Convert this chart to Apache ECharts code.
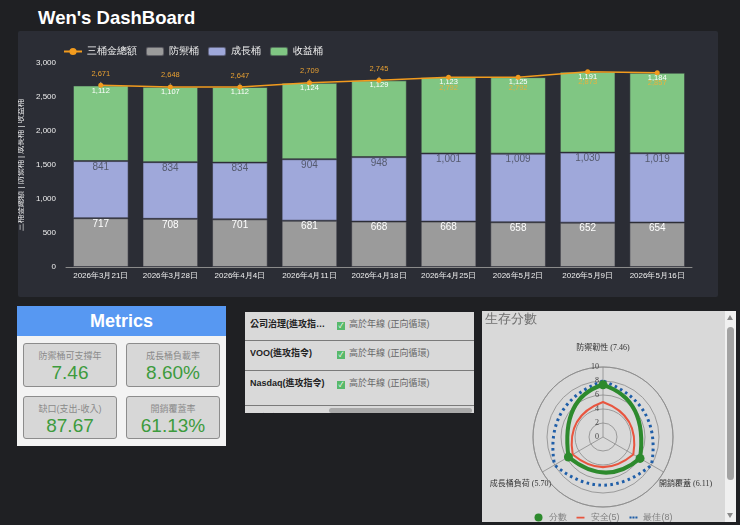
<!DOCTYPE html>
<html>
<head>
<meta charset="utf-8">
<script src="https://cdn.jsdelivr.net/npm/echarts@6/dist/echarts.min.js"></script>
<style>
  body { margin: 0; width: 740px; height: 525px; background: #1f2023; position: relative; overflow: hidden;
         font-family: "Liberation Sans", "Noto Sans CJK TC", sans-serif; }
  #title { position: absolute; left: 38px; top: 7px; color: #fff; font: bold 18.5px "Liberation Sans", sans-serif; }
  #barBox { position: absolute; left: 18px; top: 31px; width: 700px; height: 266px; background: #2b2d35; border-radius: 2px; }
  #metrics { position: absolute; left: 17px; top: 306px; width: 209px; height: 140px; background: #f3f3f3; }
  #metrics .mhead { height: 30px; background: #5798f2; color: #fff; font: bold 18px "Liberation Sans", sans-serif;
                    text-align: center; line-height: 30px; }
  #mbody { display: grid; grid-template-columns: 94px 94px; grid-template-rows: 44px 43px; column-gap: 9px; row-gap: 9px;
           padding: 7px 0 0 6px; }
  .card { background: #d7d7d7; border: 1px solid #8c8c8c; border-radius: 3px; box-sizing: border-box; text-align: center; }
  .card .lab { font-size: 9px; color: #8a8a8a; line-height: 12px; padding-top: 6px; }
  .card .val { font-size: 19px; color: #3d9b3d; line-height: 21px; }
  #signals { position: absolute; left: 245px; top: 312px; width: 229px; height: 101px; background: #d9d9d9; overflow: hidden; }
  .row { position: relative; border-bottom: 1px solid #7a7a7a; box-sizing: border-box; }
  .row .nm { position: absolute; left: 5px; top: 5px; width: 76px; font-size: 9px; font-weight: bold; color: #222;
             white-space: nowrap; overflow: hidden; text-overflow: ellipsis; }
  .row .st { position: absolute; left: 92px; top: 5px; font-size: 9px; color: #666; white-space: nowrap; }
  .row .ck { display: inline-block; width: 8px; height: 8px; background: #57b96b; color: #fff; font-size: 7px; line-height: 8px;
             text-align: center; vertical-align: -1px; margin-right: 4px; }
  #hscroll { position: absolute; left: 84px; top: 96px; width: 143px; height: 5px; background: #a9a9a9; border-radius: 3px; }
  #radarBox { position: absolute; left: 482px; top: 311px; width: 254px; height: 211px; background: #d9d9d9; }
  #radar { position: absolute; left: 0; top: 0; width: 243px; height: 211px; }
  #vtrack { position: absolute; left: 243px; top: 0; width: 11px; height: 211px; background: #f0f0f0; }
  #vthumb { position: absolute; left: 2px; top: 16px; width: 7px; height: 153px; background: #a3a3a3; border-radius: 4px; }
  .arr { position: absolute; left: 2px; width: 0; height: 0; border-left: 3.5px solid transparent; border-right: 3.5px solid transparent; }
  #aup { top: 4px; border-bottom: 5px solid #8a8a8a; }
  #adn { top: 202px; border-top: 5px solid #8a8a8a; }
</style>
</head>
<body>
<div id="title">Wen's DashBoard</div>
<div id="barBox"></div>
<div id="metrics"><div class="mhead">Metrics</div><div id="mbody"></div></div>
<div id="signals"><div id="hscroll"></div></div>
<div id="radarBox"><div id="radar"></div><div id="vtrack"><div class="arr" id="aup"></div><div id="vthumb"></div><div class="arr" id="adn"></div></div></div>
<script>
// 三桶金 weekly data
var dates = ['2026年3月21日', '2026年3月28日', '2026年4月4日', '2026年4月11日', '2026年4月18日',
             '2026年4月25日', '2026年5月2日', '2026年5月9日', '2026年5月16日'];
var defense = [717, 708, 701, 681, 668, 668, 658, 652, 654];
var growth = [841, 834, 834, 904, 948, 1001, 1009, 1030, 1019];
var income = [1112, 1107, 1112, 1124, 1129, 1123, 1125, 1191, 1184];
var totals = [2671, 2648, 2647, 2709, 2745, 2792, 2792, 2873, 2857];

// metrics cards
var metricNames = ['防禦桶可支撐年', '成長桶負載率', '缺口(支出-收入)', '開銷覆蓋率'];
var metricValues = ['7.46', '8.60%', '87.67', '61.13%'];

// signal table
var signalNames = ['公司治理(進攻指令)', 'VOO(進攻指令)', 'Nasdaq(進攻指令)', '現金流量'];
var signalStates = ['高於年線 (正向循環)', '高於年線 (正向循環)', '高於年線 (正向循環)', ''];
var rowHeights = [29, 30, 35, 30];

// 生存分數
var radarNames = ['防禦韌性', '成長桶負荷', '開銷覆蓋'];
var radarScore = [7.46, 5.70, 6.11];
var radarSafe = [5, 5, 5];
var radarBest = [8, 8, 8];

// ---- metrics + table (html) ----
var mb = document.getElementById('mbody');
metricNames.forEach(function (n, i) {
    var c = document.createElement('div');
    c.className = 'card';
    c.innerHTML = '<div class="lab">' + n + '</div><div class="val">' + metricValues[i] + '</div>';
    mb.appendChild(c);
});
var sg = document.getElementById('signals');
var hs = document.getElementById('hscroll');
signalNames.forEach(function (n, i) {
    var r = document.createElement('div');
    r.className = 'row';
    r.style.height = rowHeights[i] + 'px';
    var st = signalStates[i] ? '<div class="st"><span class="ck">&#10003;</span>' + signalStates[i] + '</div>' : '';
    r.innerHTML = '<div class="nm">' + n + '</div>' + st;
    sg.insertBefore(r, hs);
});

// ---- stacked bars ----
function comma(p) { return Number(p.value).toLocaleString('en-US'); }
var bar = echarts.init(document.getElementById('barBox'));
var lineData = totals.map(function (v, i) {
    if (i < 5) return v;
    return { value: v, label: { position: 'bottom', distance: 4, color: '#e6b23e' }, labelLine: { show: false } };
});
var segStyle = { borderColor: 'rgba(50,50,60,0.55)', borderWidth: 1 };
bar.setOption({
    animation: false,
    legend: {
        left: 40, top: 10, itemWidth: 18, itemHeight: 9, itemGap: 8,
        textStyle: { color: '#eee', fontSize: 9.5 },
        data: ['三桶金總額', '防禦桶', '成長桶', '收益桶']
    },
    grid: { left: 48, right: 26, top: 32, bottom: 30, outerBoundsMode: 'none' },
    xAxis: {
        type: 'category', data: dates,
        axisLine: { lineStyle: { color: '#8a8a8a' } },
        axisTick: { show: false },
        axisLabel: { color: '#eee', fontSize: 8, margin: 5, interval: 0 }
    },
    yAxis: {
        type: 'value', min: 0, max: 3000, interval: 500,
        name: '三桶金總額 | 防禦桶 | 成長桶 | 收益桶', nameLocation: 'middle', nameGap: 34,
        nameTextStyle: { color: '#eee', fontSize: 8 },
        splitLine: { show: false },
        axisLabel: { color: '#eee', fontSize: 8, margin: 10 }
    },
    series: [
        { name: '防禦桶', type: 'bar', stack: 'b', data: defense, barWidth: '80%', itemStyle: Object.assign({ color: '#9b9b9b' }, segStyle),
          label: { show: true, position: 'insideTop', distance: 1, color: '#fff', fontSize: 10, formatter: comma } },
        { name: '成長桶', type: 'bar', stack: 'b', data: growth, itemStyle: Object.assign({ color: '#9fa8da' }, segStyle),
          label: { show: true, position: 'insideTop', distance: 1, color: '#555a6e', fontSize: 10, formatter: comma } },
        { name: '收益桶', type: 'bar', stack: 'b', data: income, itemStyle: Object.assign({ color: '#80c683' }, segStyle),
          label: { show: true, position: 'insideTop', distance: 1, color: '#fff', fontSize: 7.5, formatter: comma } },
        { name: '三桶金總額', type: 'line', data: lineData, z: 5,
          symbol: 'circle', symbolSize: 5,
          itemStyle: { color: '#f29b1e' }, lineStyle: { color: '#f29b1e', width: 1.5 },
          label: { show: true, position: 'top', distance: 5, color: '#e8a032', fontSize: 7.5, formatter: comma },
          labelLine: { show: true, lineStyle: { color: '#aaa', width: 1 } } }
    ]
});

// ---- 生存分數 (polar with bowed edges) ----
var radar = echarts.init(document.getElementById('radar'));
var BOW = 2.44;
function shapeItem(color, width, dash, marker) {
    return function (params, api) {
        var n = params.dataInsideLength;
        var me = params.dataIndexInside;
        var p = api.coord([api.value(0), api.value(1)]);
        var kids = [];
        if (me === 0) {
            var pts = [];
            for (var j = 0; j < n; j++) pts.push(api.coord([api.value(0, j), api.value(1, j)]));
            var cx = params.coordSys.cx, cy = params.coordSys.cy;
            var d = 'M' + pts[0][0] + ',' + pts[0][1];
            for (j = 0; j < n; j++) {
                var a = pts[j], b = pts[(j + 1) % n];
                var qx = cx + ((a[0] + b[0]) / 2 - cx) * BOW;
                var qy = cy + ((a[1] + b[1]) / 2 - cy) * BOW;
                d += 'Q' + qx + ',' + qy + ' ' + b[0] + ',' + b[1];
            }
            d += 'Z';
            kids.push({ type: 'path', shape: { pathData: d },
                        style: { fill: 'none', stroke: color, lineWidth: width, lineDash: dash, lineJoin: 'round' } });
        }
        if (marker) kids.push({ type: 'circle', shape: { cx: p[0], cy: p[1], r: 4.5 }, style: { fill: color } });
        return { type: 'group', children: kids };
    };
}
function pairs(vals) { return vals.map(function (v, i) { return [v, i]; }); }
var serif = "'Liberation Serif', 'Noto Sans CJK TC', serif";
radar.setOption({
    animation: false,
    title: { text: '生存分數', left: 3, top: 2, padding: 0, textStyle: { color: '#707070', fontSize: 13, fontWeight: 'normal' } },
    polar: { center: [121, 126], radius: 70 },
    angleAxis: {
        type: 'value', min: 0, max: radarNames.length, interval: 1, startAngle: 90, clockwise: false,
        axisLine: { show: true, lineStyle: { color: '#8a8a8a', width: 0.8 } },
        axisTick: { show: false },
        splitLine: { show: true, lineStyle: { color: '#8a8a8a', width: 0.8 } },
        axisLabel: {
            margin: 15,
            formatter: function (v) {
                return v < radarNames.length ? '{n|' + radarNames[v] + ' (' + radarScore[v].toFixed(2) + ')}' : '';
            },
            rich: { n: { width: 18, align: 'center', color: '#333', fontSize: 8, fontFamily: serif } }
        }
    },
    radiusAxis: {
        min: 0, max: 10, interval: 2,
        axisLine: { show: false }, axisTick: { show: false },
        splitLine: { show: true, lineStyle: { color: '#8a8a8a', width: 0.8 } },
        axisLabel: { color: '#444', fontSize: 8, fontFamily: serif, margin: 4 }
    },
    legend: {
        bottom: 0, padding: 0, itemWidth: 10, itemHeight: 8, itemGap: 10,
        textStyle: { color: '#808080', fontSize: 9 },
        data: [
            { name: '分數', icon: 'circle' },
            { name: '安全(5)', icon: 'path://M0,0h0.05v0.05h-0.05zM0,4h10v2.2H0zM0,10h0.05v0.05h-0.05z' },
            { name: '最佳(8)', icon: 'path://M0,0h0.05v0.05h-0.05zM0,3.7h2.6v2.6H0zM3.7,3.7h2.6v2.6h-2.6zM7.4,3.7h2.6v2.6h-2.6zM0,10h0.05v0.05h-0.05z' }
        ]
    },
    series: [
        { name: '最佳(8)', type: 'custom', coordinateSystem: 'polar', data: pairs(radarBest),
          itemStyle: { color: '#1f5ea8' }, renderItem: shapeItem('#1f5ea8', 3, [2.6, 3.4], false) },
        { name: '安全(5)', type: 'custom', coordinateSystem: 'polar', data: pairs(radarSafe),
          itemStyle: { color: '#e8553f' }, renderItem: shapeItem('#e8553f', 2, null, false) },
        { name: '分數', type: 'custom', coordinateSystem: 'polar', data: pairs(radarScore),
          itemStyle: { color: '#2d8a2d' }, renderItem: shapeItem('#2d8a2d', 4, null, true) }
    ]
});
</script>
</body>
</html>
